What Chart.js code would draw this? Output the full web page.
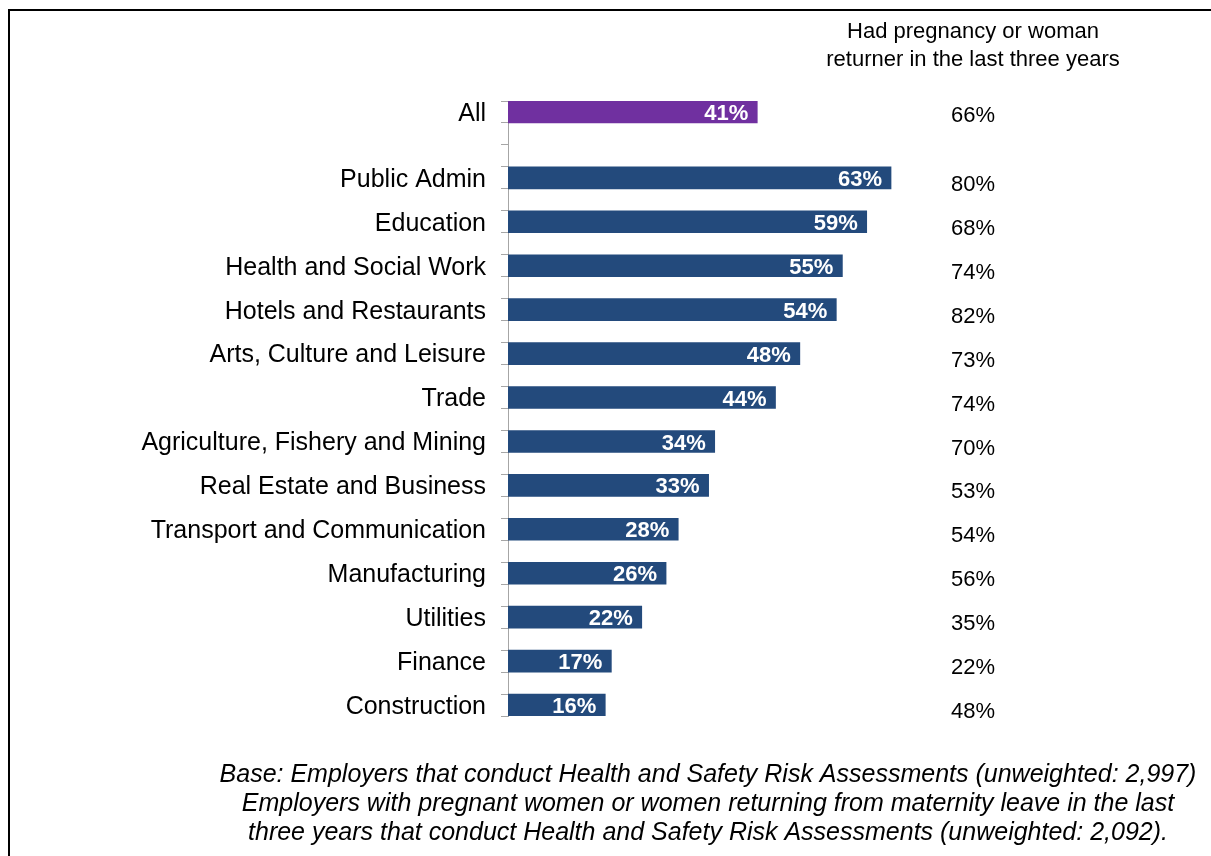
<!DOCTYPE html>
<html>
<head>
<meta charset="utf-8">
<script src="https://cdn.jsdelivr.net/npm/chart.js@4"></script>
<style>
  html, body { margin: 0; padding: 0; background: #fff; }
  #wrap { position: relative; width: 1211px; height: 856px; }
  #frame { position: absolute; left: 8px; top: 9px; right: -4px; bottom: -4px; border-top: 2px solid #000; border-left: 2px solid #000; pointer-events: none; }
  canvas { position: absolute; left: 0; top: 0; }
</style>
</head>
<body>
<div id="wrap">
  <canvas id="c" width="1211" height="856"></canvas>
  <div id="frame"></div>
</div>
<script>
// Row categories (blank rows are spacer rows of the original chart)
const categories = ["All", "", "", "Public Admin", "", "Education", "", "Health and Social Work", "", "Hotels and Restaurants", "", "Arts, Culture and Leisure", "", "Trade", "", "Agriculture, Fishery and Mining", "", "Real Estate and Business", "", "Transport and Communication", "", "Manufacturing", "", "Utilities", "", "Finance", "", "Construction"];
// All employers conducting risk assessments (%)
const allEmployers = [41, null, null, 63, null, 59, null, 55, null, 54, null, 48, null, 44, null, 34, null, 33, null, 28, null, 26, null, 22, null, 17, null, 16];
// Had pregnancy or woman returner in the last three years (%)
const hadPregnancy = [66, null, null, 80, null, 68, null, 74, null, 82, null, 73, null, 74, null, 70, null, 53, null, 54, null, 56, null, 35, null, 22, null, 48];
const xTicks = [0, 100];
const headerLines = ["Had pregnancy or woman", "returner in the last three years"];
const footLines = [
  "Base: Employers that conduct Health and Safety Risk Assessments (unweighted: 2,997)",
  "Employers with pregnant women or women returning from maternity leave in the last",
  "three years that conduct Health and Safety Risk Assessments (unweighted: 2,092)."
];

const FONT = "'Liberation Sans', Arial, sans-serif";
const PURPLE = "#7030A0";
const NAVY = "#234A7C";

const overlay = {
  id: "overlay",
  afterDatasetsDraw(chart) {
    const ctx = chart.ctx;
    const meta = chart.getDatasetMeta(0);
    const y = chart.scales.y;
    ctx.save();
    // bar value labels
    ctx.font = "bold 22px " + FONT;
    ctx.fillStyle = "#fff";
    ctx.textAlign = "right";
    ctx.textBaseline = "middle";
    meta.data.forEach((bar, i) => {
      const v = allEmployers[i];
      if (v === null) return;
      ctx.fillText(v + "%", bar.x - 9, bar.y + 2);
    });
    // right column values
    ctx.font = "22px " + FONT;
    ctx.fillStyle = "#000";
    ctx.textAlign = "left";
    hadPregnancy.forEach((v, i) => {
      if (v === null) return;
      const py = y.getPixelForValue(i) + (i === 0 ? 4 : 7);
      ctx.fillText(v + "%", 951, py);
    });
    // header
    ctx.textAlign = "center";
    ctx.font = "22px " + FONT;
    headerLines.forEach((t, k) => ctx.fillText(t, 973, 32 + k * 28));
    // footnote
    ctx.font = "italic 25px " + FONT;
    footLines.forEach((t, k) => ctx.fillText(t, 708, 775 + k * 29));
    ctx.restore();
  }
};

new Chart(document.getElementById("c"), {
  type: "bar",
  data: {
    labels: categories,
    datasets: [{
      data: allEmployers,
      backgroundColor: allEmployers.map((v, i) => i === 0 ? PURPLE : NAVY),
      borderWidth: 0,
      categoryPercentage: 1.0,
      barPercentage: 1.0
    }]
  },
  options: {
    indexAxis: "y",
    responsive: false,
    animation: false,
    layout: { padding: { left: 0, right: 95, top: 101, bottom: 140 } },
    plugins: { legend: { display: false }, tooltip: { enabled: false } },
    scales: {
      x: {
        display: false,
        min: xTicks[0],
        max: xTicks[1]
      },
      y: {
        afterFit(scale) { scale.width = 508; },
        border: { display: true, color: "#A6A6A6", width: 1 },
        grid: { drawOnChartArea: false, drawTicks: true, tickLength: 7, color: "#A6A6A6", offset: true },
        ticks: {
          autoSkip: false,
          padding: 15,
          labelOffset: 2,
          color: "#000",
          font: { family: FONT, size: 25 }
        }
      }
    }
  },
  plugins: [overlay]
});
</script>
</body>
</html>
